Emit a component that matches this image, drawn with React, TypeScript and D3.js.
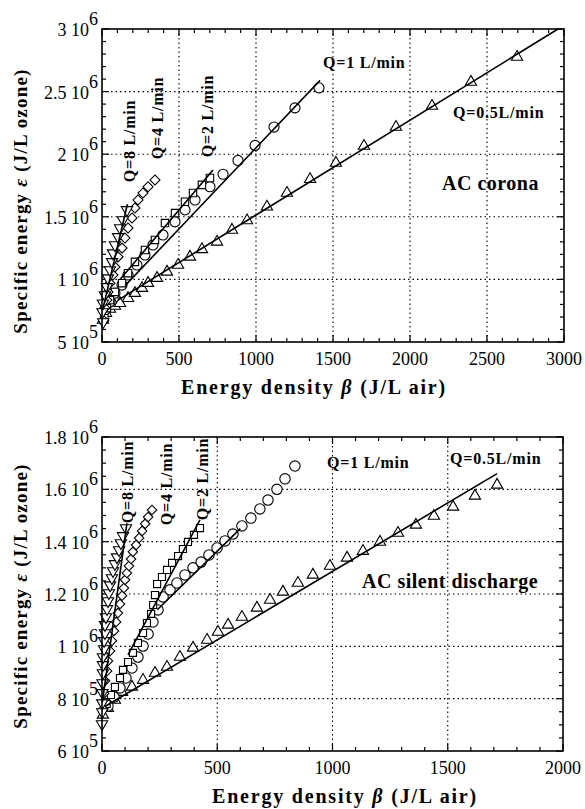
import React from 'react';
import * as d3 from 'd3';

type Pt = [number, number];

// ---- AC corona (top panel) ----
const coronaXTicks = [0, 500, 1000, 1500, 2000, 2500, 3000];
const coronaYTicks = [5e5, 1e6, 1.5e6, 2e6, 2.5e6, 3e6];
const coronaYLabels = [['5 10', '5'], ['1 10', '6'], ['1.5 10', '6'], ['2 10', '6'], ['2.5 10', '6'], ['3 10', '6']];

const coronaQ8: Pt[] = [[8, 6.6e5], [3, 7.4e5], [6, 8.1e5], [19, 8.75e5], [32, 9.4e5], [39, 1.01e6], [52, 1.075e6], [65, 1.14e6], [71, 1.21e6], [84, 1.275e6], [104, 1.34e6], [117, 1.41e6], [136, 1.475e6], [162, 1.555e6]];
const coronaQ4: Pt[] = [[12, 6.7e5], [19, 7.72e5], [32, 8.35e5], [39, 9.0e5], [52, 9.7e5], [71, 1.035e6], [84, 1.1e6], [104, 1.18e6], [130, 1.25e6], [149, 1.33e6], [169, 1.41e6], [195, 1.49e6], [214, 1.57e6], [234, 1.634e6], [266, 1.69e6], [299, 1.74e6], [344, 1.794e6]];
const coronaQ2: Pt[] = [[15, 6.9e5], [32, 7.7e5], [52, 8.35e5], [84, 9.0e5], [130, 9.7e5], [169, 1.05e6], [214, 1.14e6], [279, 1.235e6], [344, 1.315e6], [409, 1.45e6], [474, 1.53e6], [539, 1.62e6], [591, 1.69e6], [649, 1.755e6], [701, 1.81e6]];
const coronaQ1: Pt[] = [[19, 7.56e5], [52, 8.2e5], [84, 8.9e5], [130, 9.55e5], [169, 1.035e6], [227, 1.115e6], [279, 1.195e6], [331, 1.275e6], [396, 1.355e6], [474, 1.46e6], [539, 1.555e6], [604, 1.634e6], [701, 1.74e6], [786, 1.84e6], [883, 1.95e6], [994, 2.07e6], [1117, 2.217e6], [1253, 2.37e6], [1409, 2.53e6]];
const coronaQ05: Pt[] = [[6, 6.76e5], [26, 7.3e5], [52, 7.64e5], [84, 7.88e5], [117, 8.1e5], [169, 8.5e5], [214, 8.9e5], [260, 9.3e5], [299, 9.7e5], [357, 1.01e6], [422, 1.06e6], [494, 1.115e6], [571, 1.18e6], [649, 1.24e6], [747, 1.3e6], [844, 1.395e6], [942, 1.47e6], [1071, 1.58e6], [1201, 1.69e6], [1351, 1.8e6], [1519, 1.93e6], [1701, 2.065e6], [1909, 2.217e6], [2143, 2.385e6], [2396, 2.577e6], [2695, 2.776e6]];

const coronaFitQ8: Pt[] = [[5, 7.6e5], [165, 1.6e6]];
const coronaFitQ2: Pt[] = [[117, 1.0e6], [721, 1.874e6]];
const coronaFitQ1: Pt[] = [[150, 9.5e5], [1416, 2.59e6]];
const coronaFitQ05: Pt[] = [[104, 8.35e5], [2961, 3.0e6]];

// ---- AC silent discharge (bottom panel) ----
const silentXTicks = [0, 500, 1000, 1500, 2000];
const silentYTicks = [6e5, 8e5, 1e6, 1.2e6, 1.4e6, 1.6e6, 1.8e6];
const silentYLabels = [['6 10', '5'], ['8 10', '5'], ['1 10', '6'], ['1.2 10', '6'], ['1.4 10', '6'], ['1.6 10', '6'], ['1.8 10', '6']];

const silentQ8: Pt[] = [[0, 7.03e5], [1, 7.49e5], [1, 7.83e5], [2, 8.22e5], [2, 8.6e5], [4, 8.98e5], [4, 9.29e5], [4, 9.59e5], [9, 9.9e5], [9, 1.021e6], [13, 1.051e6], [13, 1.082e6], [17, 1.112e6], [22, 1.143e6], [26, 1.173e6], [30, 1.204e6], [35, 1.234e6], [43, 1.261e6], [48, 1.288e6], [56, 1.315e6], [65, 1.341e6], [74, 1.368e6], [82, 1.395e6], [91, 1.422e6], [104, 1.452e6]];
const silentQ4: Pt[] = [[5, 7.6e5], [9, 8.2e5], [13, 8.68e5], [22, 9.06e5], [26, 9.44e5], [35, 9.82e5], [43, 1.021e6], [52, 1.059e6], [61, 1.093e6], [69, 1.127e6], [78, 1.162e6], [87, 1.193e6], [95, 1.223e6], [100, 1.254e6], [108, 1.28e6], [117, 1.307e6], [126, 1.334e6], [134, 1.361e6], [148, 1.387e6], [161, 1.414e6], [174, 1.441e6], [187, 1.468e6], [200, 1.494e6], [217, 1.521e6]];
const silentQ2: Pt[] = [[20, 7.8e5], [39, 8.14e5], [56, 8.45e5], [78, 8.79e5], [91, 9.1e5], [113, 9.4e5], [134, 9.75e5], [156, 1.013e6], [178, 1.051e6], [195, 1.089e6], [213, 1.124e6], [222, 1.158e6], [230, 1.196e6], [239, 1.238e6], [260, 1.265e6], [282, 1.292e6], [304, 1.319e6], [330, 1.345e6], [351, 1.372e6], [373, 1.399e6], [399, 1.426e6], [425, 1.452e6]];
const silentQ1: Pt[] = [[26, 7.72e5], [52, 8.06e5], [78, 8.41e5], [104, 8.79e5], [130, 9.17e5], [156, 9.59e5], [178, 1.001e6], [200, 1.047e6], [221, 1.093e6], [243, 1.139e6], [265, 1.189e6], [295, 1.216e6], [325, 1.242e6], [360, 1.273e6], [395, 1.3e6], [430, 1.322e6], [464, 1.349e6], [499, 1.376e6], [534, 1.403e6], [568, 1.429e6], [607, 1.46e6], [646, 1.49e6], [685, 1.525e6], [720, 1.559e6], [759, 1.6e6], [794, 1.64e6], [837, 1.689e6]];
const silentQ05: Pt[] = [[4, 7.38e5], [26, 7.64e5], [56, 7.95e5], [87, 8.25e5], [130, 8.45e5], [178, 8.71e5], [230, 8.98e5], [282, 9.21e5], [338, 9.59e5], [395, 9.94e5], [456, 1.024e6], [503, 1.055e6], [547, 1.082e6], [607, 1.112e6], [672, 1.147e6], [729, 1.177e6], [785, 1.208e6], [850, 1.242e6], [915, 1.273e6], [989, 1.307e6], [1063, 1.338e6], [1132, 1.364e6], [1206, 1.399e6], [1284, 1.433e6], [1362, 1.464e6], [1440, 1.498e6], [1523, 1.533e6], [1618, 1.575e6], [1714, 1.617e6]];

const silentFitQ8: Pt[] = [[2, 7.9e5], [108, 1.47e6]];
const silentFitQ2: Pt[] = [[113, 9.67e5], [425, 1.483e6]];
const silentFitQ1: Pt[] = [[240, 1.14e6], [600, 1.45e6]];
const silentFitQ05: Pt[] = [[13, 7.7e5], [1714, 1.66e6]];

const SERIF = '"Liberation Serif", "DejaVu Serif", serif';

type Series = { data: Pt[]; shape: string; size: number };
type Label = { text: string; x: number; y: number; rotate?: boolean };

interface PanelProps {
  box: { left: number; top: number; right: number; bottom: number };
  xMax: number;
  yDomain: [number, number];
  xTicks: number[];
  xMinor: number;
  yTicks: number[];
  yMinor: number;
  yLabels: string[][];
  series: Series[];
  fits: Pt[][];
  labels: Label[];
  title: { text: string; x: number; y: number };
  xTitleX: number;
  yTitleY: number;
}

function markerPath(shape: string, size: number) {
  if (shape === 'circle') return d3.symbol(d3.symbolCircle, size)()!;
  if (shape === 'square') return d3.symbol(d3.symbolSquare, size)()!;
  return d3.symbol(d3.symbolTriangle, size)()!;
}

function Panel(p: PanelProps) {
  const { box } = p;
  const x = d3.scaleLinear().domain([0, p.xMax]).range([box.left, box.right]);
  const y = d3.scaleLinear().domain(p.yDomain).range([box.bottom, box.top]);
  const line = d3.line<Pt>().x(d => x(d[0])).y(d => y(d[1]));
  const xMinorTicks = d3.range(0, p.xMax + 1e-6, p.xMinor);
  const yMinorTicks = d3.range(p.yDomain[0], p.yDomain[1] + 1, p.yMinor);
  const major = 7;
  const minor = 4;

  return (
    <g>
      {/* grid */}
      {p.xTicks.slice(1, -1).map(t => (
        <line key={'gx' + t} x1={x(t)} x2={x(t)} y1={box.top} y2={box.bottom}
          stroke="#000" strokeWidth={1.1} strokeDasharray="1.5,3" />
      ))}
      {p.yTicks.slice(1, -1).map(t => (
        <line key={'gy' + t} x1={box.left} x2={box.right} y1={y(t)} y2={y(t)}
          stroke="#000" strokeWidth={1.1} strokeDasharray="1.5,3" />
      ))}
      {/* ticks */}
      {xMinorTicks.map(t => {
        const len = p.xTicks.some(v => Math.abs(v - t) < 1e-6) ? major : minor;
        return (
          <g key={'tx' + t}>
            <line x1={x(t)} x2={x(t)} y1={box.bottom} y2={box.bottom - len} stroke="#000" strokeWidth={1.2} />
            <line x1={x(t)} x2={x(t)} y1={box.top} y2={box.top + len} stroke="#000" strokeWidth={1.2} />
          </g>
        );
      })}
      {yMinorTicks.map(t => {
        const len = p.yTicks.some(v => Math.abs(v - t) < 1) ? major : minor;
        return (
          <g key={'ty' + t}>
            <line x1={box.left} x2={box.left + len} y1={y(t)} y2={y(t)} stroke="#000" strokeWidth={1.2} />
            <line x1={box.right} x2={box.right - len} y1={y(t)} y2={y(t)} stroke="#000" strokeWidth={1.2} />
          </g>
        );
      })}
      {/* tick labels */}
      {p.xTicks.map(t => (
        <text key={'lx' + t} x={x(t)} y={box.bottom + 23} textAnchor="middle"
          fontFamily={SERIF} fontSize={18}>{t}</text>
      ))}
      {p.yTicks.map((t, i) => (
        <g key={'ly' + t}>
          <text x={box.left - 13} y={y(t) + 7} textAnchor="end" fontFamily={SERIF} fontSize={18}>{p.yLabels[i][0]}</text>
          <text x={box.left - 13} y={y(t) - 4} textAnchor="start" fontFamily={SERIF} fontSize={18}>{p.yLabels[i][1]}</text>
        </g>
      ))}
      {/* markers */}
      {p.series.map((s, si) => (
        <g key={'s' + si}>
          {s.data.map((d, i) => {
            const rot = s.shape === 'down' ? 180 : s.shape === 'diamond' ? 45 : 0;
            const shp = s.shape === 'diamond' ? 'square' : s.shape;
            return (
              <path key={i} d={markerPath(shp, s.size)}
                transform={`translate(${x(d[0])},${y(d[1])}) rotate(${rot})`}
                fill="#fff" stroke="#000" strokeWidth={1.1} />
            );
          })}
        </g>
      ))}
      {/* fitted lines */}
      {p.fits.map((f, i) => (
        <path key={'f' + i} d={line(f)!} fill="none" stroke="#000" strokeWidth={1.6} />
      ))}
      {/* frame */}
      <rect x={box.left} y={box.top} width={box.right - box.left} height={box.bottom - box.top}
        fill="none" stroke="#000" strokeWidth={1.6} />
      {/* flow-rate labels */}
      {p.labels.map((l, i) => (
        <text key={'q' + i} x={l.x} y={l.y} fontFamily={SERIF} fontWeight="bold" fontSize={16}
          letterSpacing={0.8}
          textAnchor={l.rotate ? 'middle' : 'start'}
          dominantBaseline={l.rotate ? 'central' : 'auto'}
          transform={l.rotate ? `rotate(-90 ${l.x} ${l.y})` : undefined}>{l.text}</text>
      ))}
      <text x={p.title.x} y={p.title.y} fontFamily={SERIF} fontWeight="bold" fontSize={20} letterSpacing={0.5}>{p.title.text}</text>
      {/* axis titles */}
      <text x={p.xTitleX} y={box.bottom + 52} textAnchor="middle" fontFamily={SERIF} fontWeight="bold" fontSize={20}
        letterSpacing={1.8}>
        Energy density <tspan fontStyle="italic">β</tspan>{'  '}(J/L air)
      </text>
      <text transform={`translate(27,${p.yTitleY}) rotate(-90)`} textAnchor="middle" fontFamily={SERIF} fontWeight="bold" fontSize={19}
        letterSpacing={1.2}>
        Specific energy <tspan fontStyle="italic">ε</tspan>{'  '}(J/L ozone)
      </text>
    </g>
  );
}

export default function App() {
  return (
    <svg width={585} height={809} style={{ position: 'absolute', left: 0, top: 0, background: '#fff' }}>
      <Panel
        box={{ left: 102, top: 29, right: 564, bottom: 342 }}
        xMax={3000}
        yDomain={[5e5, 3e6]}
        xTicks={coronaXTicks}
        xMinor={100}
        yTicks={coronaYTicks}
        yMinor={1e5}
        yLabels={coronaYLabels}
        series={[
          { data: coronaQ05, shape: 'triangle', size: 55 },
          { data: coronaQ1, shape: 'circle', size: 80 },
          { data: coronaQ2, shape: 'square', size: 55 },
          { data: coronaQ4, shape: 'diamond', size: 50 },
          { data: coronaQ8, shape: 'down', size: 55 },
        ]}
        fits={[coronaFitQ8, coronaFitQ2, coronaFitQ1, coronaFitQ05]}
        labels={[
          { text: 'Q=8 L/min', x: 129, y: 141, rotate: true },
          { text: 'Q=4 L/min', x: 157, y: 118, rotate: true },
          { text: 'Q=2 L/min', x: 207, y: 116, rotate: true },
          { text: 'Q=1 L/min', x: 323, y: 68 },
          { text: 'Q=0.5L/min', x: 453, y: 118 },
        ]}
        title={{ text: 'AC corona', x: 442, y: 190 }}
        xTitleX={314}
        yTitleY={201}
      />
      <Panel
        box={{ left: 102, top: 437, right: 563, bottom: 751 }}
        xMax={2000}
        yDomain={[6e5, 1.8e6]}
        xTicks={silentXTicks}
        xMinor={100}
        yTicks={silentYTicks}
        yMinor={5e4}
        yLabels={silentYLabels}
        series={[
          { data: silentQ05, shape: 'triangle', size: 55 },
          { data: silentQ1, shape: 'circle', size: 85 },
          { data: silentQ2, shape: 'square', size: 50 },
          { data: silentQ4, shape: 'diamond', size: 45 },
          { data: silentQ8, shape: 'down', size: 55 },
        ]}
        fits={[silentFitQ8, silentFitQ2, silentFitQ1, silentFitQ05]}
        labels={[
          { text: 'Q=8 L/min', x: 127, y: 482, rotate: true },
          { text: 'Q=4 L/min', x: 166, y: 484, rotate: true },
          { text: 'Q=2 L/min', x: 202, y: 479, rotate: true },
          { text: 'Q=1 L/min', x: 327, y: 468 },
          { text: 'Q=0.5L/min', x: 450, y: 464 },
        ]}
        title={{ text: 'AC silent discharge', x: 362, y: 588 }}
        xTitleX={345}
        yTitleY={596}
      />
    </svg>
  );
}
